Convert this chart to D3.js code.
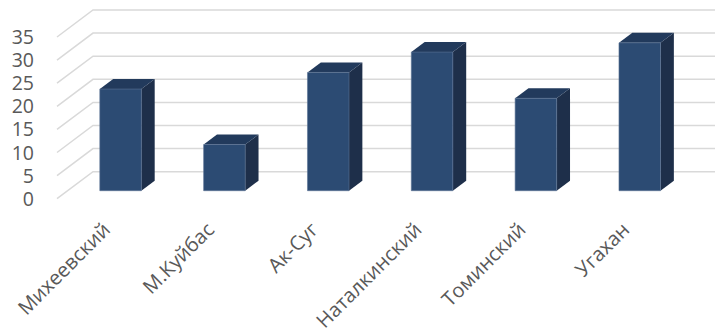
<!DOCTYPE html>
<html>
<head>
<meta charset="utf-8">
<script src="https://cdn.jsdelivr.net/npm/d3@7"></script>
<style>
  body { margin: 0; background: #fff; }
  svg text { font-family: "Open Sans", "Liberation Sans", sans-serif; fill: #595959; }
</style>
</head>
<body>
<svg id="chart" width="715" height="328"></svg>
<script>
// data
const categories = ["Михеевский", "М.Куйбас", "Ак-Суг", "Наталкинский", "Томинский", "Угахан"];
const values = [22, 10, 25.6, 30, 20, 32];
const ticks = [0, 5, 10, 15, 20, 25, 30, 35];

const svg = d3.select("#chart");

// 3D depth vector (front of floor -> back wall)
const depth = { dx: 36, dy: -27 };
const barFront = 0.296; // bar front face position in depth
const barBack = 0.667;

// scales live on the front floor plane
const x = d3.scaleBand()
  .domain(categories)
  .range([58, 681])
  .paddingInner(0.6)
  .paddingOuter(0.3);

const y = d3.scaleLinear()
  .domain([0, 35])
  .range([198.7, 37]);

const at = (px, py, d) => [px + depth.dx * d, py + depth.dy * d];

// gridlines: side wall diagonal + back wall line
const grid = svg.append("g");
ticks.forEach((t) => {
  const p0 = at(57, y(t), 0);
  const p1 = at(57, y(t), 1);
  grid.append("polyline")
    .attr("points", [p0, p1, [720, p1[1]]].map((p) => p.join(",")).join(" "))
    .attr("fill", "none")
    .attr("stroke", "#d9d9d9")
    .attr("stroke-width", 1.5);
});

// y tick labels
svg.append("g")
  .selectAll("text")
  .data(ticks)
  .join("text")
  .attr("x", 34)
  .attr("y", (d) => y(d))
  .attr("dy", "0.36em")
  .attr("text-anchor", "end")
  .attr("font-size", 19.5)
  .text((d) => d);

// bars
const bars = svg.append("g")
  .selectAll("g")
  .data(categories.map((c, i) => ({ c, v: values[i] })))
  .join("g");

const poly = (pts) => pts.map((p) => p.join(",")).join(" ");

bars.each(function (d) {
  const g = d3.select(this);
  const x0 = x(d.c), x1 = x(d.c) + x.bandwidth();
  const yt = y(d.v), yb = y(0);
  const fbl = at(x0, yb, barFront), fbr = at(x1, yb, barFront);
  const ftl = at(x0, yt, barFront), ftr = at(x1, yt, barFront);
  const btl = at(x0, yt, barBack), btr = at(x1, yt, barBack);
  const bbr = at(x1, yb, barBack);

  // side face
  g.append("polygon")
    .attr("points", poly([fbr, ftr, btr, bbr]))
    .attr("fill", "#1e2f4a");
  // top face
  g.append("polygon")
    .attr("points", poly([ftl, ftr, btr, btl]))
    .attr("fill", "#223a5c");
  // front face
  g.append("polygon")
    .attr("points", poly([fbl, fbr, ftr, ftl]))
    .attr("fill", "#2c4b73")
    .attr("stroke", "#5b7293")
    .attr("stroke-width", 0.6);
});

// category labels, rotated
svg.append("g")
  .selectAll("text")
  .data(categories)
  .join("text")
  .attr("transform", (d) => {
    const cx = at(x(d) + x.bandwidth() / 2, 0, barFront)[0];
    return `translate(${cx - 9},${231}) rotate(-45)`;
  })
  .attr("text-anchor", "end")
  .attr("font-size", 20)
  .text((d) => d);
</script>
</body>
</html>
